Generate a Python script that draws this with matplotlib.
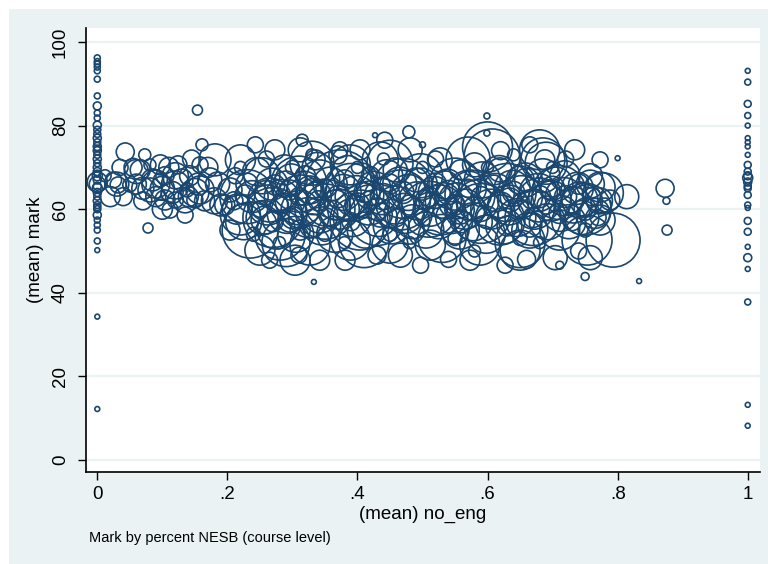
import matplotlib
matplotlib.use("Agg")
import matplotlib.pyplot as plt
from matplotlib.patches import Rectangle

plt.rcParams['font.family'] = ['Liberation Sans', 'DejaVu Sans']

# course level data: share of NESB students, mean mark, enrolment (bubble weight)
# courses with no NESB students
no_eng_0 = [0, 0, 0, 0, 0, 0, 0, 0, 0, 0, 0, 0, 0, 0, 0, 0, 0, 0, 0, 0,
            0, 0, 0, 0, 0, 0, 0, 0, 0, 0, 0, 0, 0, 0, 0, 0, 0, 0, 0, 0,
            0, 0, 0, 0]
mark_0 = [96.2, 95.3, 94.7, 94.0, 93.1, 91.1, 87.1, 84.7, 83.0, 81.8,
          80.1, 79.0, 78.0, 77.0, 76.0, 75.0, 74.5, 74.0, 73.0, 72.0,
          71.0, 70.0, 69.0, 68.5, 68.0, 67.0, 66.5, 66.0, 65.5, 65.0,
          64.0, 63.0, 62.0, 61.0, 60.5, 58.6, 57.4, 56.2, 55.0, 52.4,
          50.2, 34.3, 12.2, 60.0]
n_0 = [9, 9, 9, 9, 9, 9, 9, 16, 9, 9,
       16, 12, 12, 16, 12, 16, 12, 16, 12, 16,
       12, 16, 16, 12, 25, 16, 100, 64, 16, 25,
       16, 12, 16, 12, 12, 16, 9, 9, 9, 9,
       6, 6, 6, 12]

# courses with only NESB students
no_eng_1 = [1, 1, 1, 1, 1, 1, 1, 1, 1, 1, 1, 1, 1, 1, 1, 1, 1, 1, 1, 1,
            1, 1, 1, 1, 1, 1, 1]
mark_1 = [93.1, 90.4, 85.2, 82.4, 80.0, 77.0, 76.0, 75.0, 73.0, 70.6,
          69.0, 68.0, 67.5, 66.5, 65.5, 65.0, 63.4, 61.0, 60.3, 57.2,
          54.6, 51.0, 48.4, 45.7, 37.8, 13.2, 8.2]
n_1 = [6, 9, 12, 9, 6, 6, 6, 6, 6, 12,
       12, 16, 25, 16, 12, 12, 12, 9, 6, 12,
       12, 6, 16, 6, 9, 6, 6]

# mixed courses
no_eng = [
    # 0.01 - 0.2
    .020, .043, .035, .066, .081, .097, .104, .120, .124, .135,
    .142, .112, .135, .150, .050, .032, .073, .158, .173, .181,
    .196, .158, .078, .154, .161, .097, .120, .081, .012, .104,
    .138,
    # 0.2 - 0.35
    .235, .220, .253, .204, .220, .265, .281, .288, .312, .312,
    .327, .304, .250, .342, .342, .243, .273, .204, .296, .327,
    .258, .227, .296, .273, .312, .335, .212, .315, .333, .265,
    # 0.35 - 0.55
    .373, .404, .466, .497, .435, .527, .389, .450, .512, .366,
    .419, .481, .458, .404, .481, .527, .535, .550, .435, .396,
    .504, .466, .497, .427, .479, .373, .442, .342, .381, .500,
    .389,
    # 0.55 - 0.82
    .607, .685, .778, .753, .600, .680, .773, .814, .793, .573,
    .619, .588, .650, .680, .711, .742, .719, .758, .650, .619,
    .580, .558, .634, .704, .758, .773, .665, .688, .734, .773,
    .599, .599, .800, .750, .711, .573, .627, .788, .665, .558,
    .696,
    # right-hand outliers
    .873, .875, .876, .833,
    # core of the cloud
    .21, .23, .25, .26, .27, .28, .29, .30, .31, .32,
    .33, .34, .35, .36, .37, .38, .39, .40, .41, .42,
    .43, .44, .45, .46, .47, .48, .49, .50, .51, .52,
    .53, .54, .55, .56, .57, .58, .59, .60, .61, .62,
    .63, .64, .65, .66, .67, .68, .69, .70, .71, .72,
    .73, .74, .75, .76, .77, .78,
    .22, .24, .30, .35, .40, .45, .50, .55, .60, .65,
    .70, .75, .28, .38, .48, .58, .68, .44, .64, .33,
    .26, .37, .52, .62, .72, .31, .43, .54, .66, .74,
    # more of the core
    .215, .225, .238, .245, .255, .262, .268, .275, .283, .292,
    .298, .305, .312, .318, .325, .332, .338, .345, .352, .358,
    .365, .372, .378, .385, .392, .398, .405, .412, .418, .425,
    .432, .438, .445, .452, .458, .465, .472, .478, .485, .492,
    .498, .505, .512, .518, .525, .532, .538, .545,
    .552, .558, .565, .572, .578, .585, .592, .598, .605, .612,
    .618, .625, .632, .638, .645, .652, .658, .665, .672, .678,
    .685, .692, .698, .705, .712, .718, .725, .732, .738, .745,
    .752, .758, .765, .772,
    .025, .040, .055, .060, .070, .085, .090, .100, .110, .115,
    .130, .140, .145, .155, .165, .170, .185, .190,
    # large courses
    .23, .27, .31, .35, .39, .43, .47, .51, .55, .59,
    .63, .67, .71, .75, .29, .41, .53, .65, .33, .45,
    .57, .69,
    .03, .06, .09, .12, .15, .18, .10, .07,
]
mark = [
    63.0, 73.7, 70.0, 69.4, 64.6, 70.6, 62.2, 65.8, 70.6, 62.0,
    68.0, 59.8, 58.6, 62.2, 65.8, 65.8, 73.0, 64.6, 67.0, 71.8,
    61.0, 70.6, 55.5, 83.7, 75.4, 67.0, 62.2, 70.6, 68.0, 68.0,
    64.6,
    55.0, 71.8, 68.0, 64.6, 58.6, 62.2, 53.8, 69.4, 74.2, 62.2,
    51.4, 47.8, 50.2, 67.0, 58.6, 75.4, 74.2, 55.0, 57.4, 64.6,
    57.4, 63.4, 64.6, 65.8, 55.0, 71.8, 68.0, 76.5, 42.6, 47.8,
    65.8, 57.4, 62.2, 68.0, 71.8, 59.8, 52.6, 51.4, 51.4, 61.0,
    63.4, 55.0, 69.4, 74.2, 74.2, 71.8, 65.8, 55.0, 58.6, 61.0,
    62.2, 49.0, 46.6, 77.7, 78.5, 74.2, 76.5, 47.8, 47.8, 75.4,
    70.6,
    72.5, 71.8, 63.9, 52.6, 74.9, 74.2, 65.3, 63.0, 52.6, 63.4,
    57.4, 51.4, 50.2, 62.2, 55.0, 62.2, 68.0, 68.0, 67.0, 69.4,
    70.6, 59.8, 62.2, 48.4, 48.4, 57.4, 56.2, 71.8, 74.2, 71.8,
    82.3, 78.2, 72.2, 43.9, 46.6, 47.8, 46.6, 62.2, 75.4, 69.4,
    64.6,
    65.0, 62.0, 55.0, 42.8,
    62, 66, 60, 64, 57, 61, 66, 58, 63, 68,
    56, 62, 65, 59, 63, 67, 57, 61, 64, 68,
    60, 63, 66, 58, 64, 61, 67, 58, 63, 66,
    60, 64, 61, 57, 65, 60, 63, 58, 66, 61,
    56, 64, 60, 67, 58, 63, 61, 65, 59, 63,
    57, 66, 60, 63, 58, 61,
    70, 54, 70, 54, 70, 54, 70, 53, 70, 53,
    70, 55, 52, 52, 52, 50, 52, 72, 73, 73,
    72, 73, 72, 74, 72, 49, 49, 48, 48, 50,
    60, 57, 63, 69, 58, 61, 66, 55, 63, 59,
    67, 54, 60, 65, 58, 63, 70, 56, 61, 66,
    54, 60, 64, 69, 58, 63, 67, 55, 61, 65,
    58, 63, 68, 56, 61, 66, 59, 64, 57, 62,
    66, 55, 60, 64, 57, 62, 66, 58,
    62, 55, 60, 65, 57, 62, 67, 54, 60, 64,
    69, 56, 61, 65, 58, 63, 67, 55, 60, 64,
    68, 57, 62, 66, 59, 63, 57, 61, 65, 58,
    62, 66, 59, 62,
    67, 63, 70, 66, 62, 67, 63, 65, 70, 64,
    67, 63, 72, 66, 62, 70, 66, 61,
    63, 58, 66, 60, 64, 58, 65, 60, 66, 59,
    64, 58, 64, 60, 52, 52, 53, 52, 71, 71,
    72, 71,
    66, 69, 66, 68, 64, 62, 60, 65,
]
n = [
    100, 81, 64, 100, 144, 100, 100, 196, 81, 144,
    100, 64, 64, 64, 49, 64, 36, 196, 144, 256,
    100, 64, 25, 25, 36, 49, 64, 36, 36, 81,
    49,
    784, 225, 324, 144, 400, 484, 625, 225, 144, 625,
    400, 225, 225, 400, 324, 64, 100, 100, 144, 196,
    196, 100, 100, 100, 100, 100, 64, 36, 6, 64,
    1225, 900, 900, 484, 324, 625, 400, 324, 225, 225,
    196, 196, 144, 100, 144, 144, 196, 196, 144, 100,
    100, 144, 64, 6, 36, 64, 64, 100, 100, 9,
    400,
    784, 484, 400, 625, 625, 400, 225, 144, 729, 625,
    625, 400, 400, 484, 400, 324, 225, 144, 196, 144,
    144, 196, 144, 144, 144, 225, 144, 100, 100, 64,
    9, 9, 6, 16, 16, 100, 64, 100, 64, 100,
    100,
    81, 12, 25, 6,
    81, 121, 64, 144, 100, 81, 169, 121, 81, 100,
    144, 100, 81, 169, 121, 100, 81, 144, 100, 81,
    121, 169, 100, 81, 121, 100, 144, 81, 100, 121,
    81, 144, 100, 121, 81, 144, 100, 121, 81, 169,
    100, 121, 81, 144, 100, 121, 81, 144, 100, 121,
    81, 100, 121, 81, 64, 49,
    36, 49, 49, 49, 36, 49, 36, 49, 36, 49,
    36, 49, 36, 36, 36, 36, 36, 36, 36, 36,
    64, 81, 64, 81, 64, 64, 81, 64, 81, 64,
    225, 324, 256, 196, 289, 400, 256, 361, 289, 400,
    256, 324, 361, 289, 400, 324, 225, 361, 441, 289,
    324, 400, 324, 256, 361, 441, 289, 324, 400, 289,
    361, 324, 256, 324, 361, 289, 400, 324, 289, 361,
    256, 324, 289, 256, 289, 324, 225, 256,
    324, 361, 400, 289, 361, 441, 324, 361, 400, 361,
    256, 324, 400, 324, 361, 441, 289, 324, 400, 361,
    289, 324, 400, 289, 324, 361, 289, 324, 256, 289,
    256, 196, 225, 169,
    64, 81, 81, 100, 81, 121, 100, 144, 100, 121,
    121, 100, 81, 121, 100, 100, 144, 121,
    729, 900, 784, 900, 841, 784, 900, 784, 676, 900,
    841, 784, 729, 676, 576, 625, 576, 625, 484, 529,
    484, 441,
    144, 144, 196, 169, 196, 169, 100, 121,
]

xticks = [0, .2, .4, .6, .8, 1]
xtick_labels = ['0', '.2', '.4', '.6', '.8', '1']
yticks = [0, 20, 40, 60, 80, 100]

navy = '#1A476F'
bg = '#EAF2F3'

fig = plt.figure(figsize=(7.68, 5.64), dpi=100, facecolor='white')
fig.patches.append(Rectangle((9 / 768, 0), 1, 1 - 9 / 564, transform=fig.transFigure,
                             facecolor=bg, edgecolor='none', zorder=-10))
ax = fig.add_axes([0.1116, 0.1631, 0.878, 0.7873])
ax.set_facecolor('white')

k = 2.07
for xs, ys, ns in [(no_eng, mark, n), (no_eng_0, mark_0, n_0),
                   (no_eng_1, mark_1, n_1)]:
    ax.scatter(xs, ys, s=[v * k for v in ns], facecolors='none',
               edgecolors=navy, linewidths=1.2, zorder=3)

ax.set_xlim(-0.0178, 1.0189)
ax.set_ylim(-2.87, 103.35)
ax.set_xticks(xticks)
ax.set_xticklabels(xtick_labels)
ax.set_yticks(yticks)
for t in ax.get_yticklabels():
    t.set_rotation(90)
    t.set_va('center')
ax.tick_params(axis='both', labelsize=13.5, length=6, width=1, direction='out',
               color='black', pad=4)
ax.tick_params(axis='y', pad=6)
ax.grid(axis='y', color=bg, linewidth=1.6, zorder=0)
for side in ['top', 'right']:
    ax.spines[side].set_visible(False)
for side in ['left', 'bottom']:
    ax.spines[side].set_linewidth(1.2)

ax.set_xlabel('(mean) no_eng', fontsize=13.5, labelpad=2)
ax.set_ylabel('(mean) mark', fontsize=13.5, labelpad=6)

fig.text(89 / 768, 1 - 538 / 564, 'Mark by percent NESB (course level)',
         fontsize=10.5, va='center', ha='left')

fig.savefig('out.png', dpi=100, facecolor='white')
